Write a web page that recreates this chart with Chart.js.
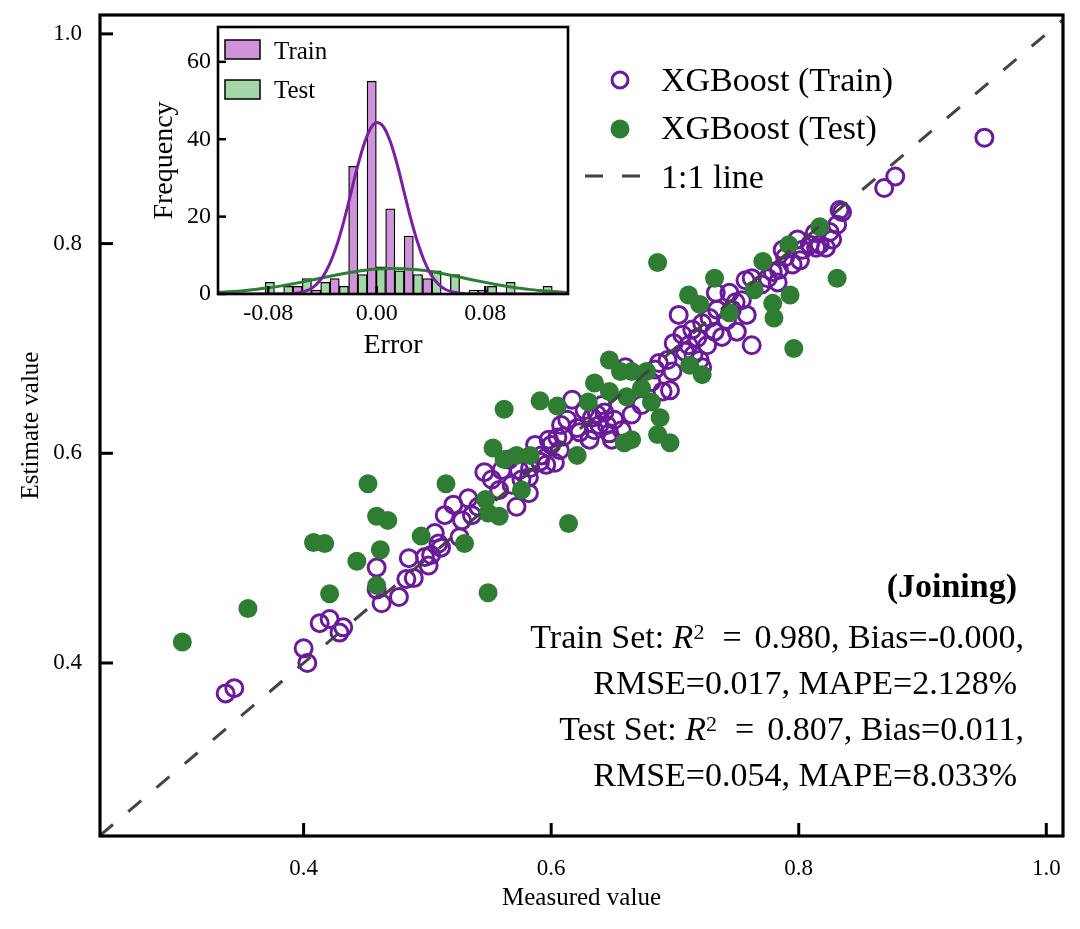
<!DOCTYPE html>
<html>
<head>
<meta charset="utf-8">
<script src="https://cdn.jsdelivr.net/npm/chart.js@4.4.1/dist/chart.umd.min.js"></script>
<style>
  html, body { margin: 0; padding: 0; background: #fff; }
  #wrap { position: relative; width: 1080px; height: 929px; }
  #wrap canvas { position: absolute; }
</style>
</head>
<body>
<div id="wrap">
  <canvas id="main" width="1080" height="929" style="left:0;top:0"></canvas>
  <canvas id="inset" width="450" height="360" style="left:130px;top:10px"></canvas>
</div>
<script>
// tick labels
const measuredTicks = [0.4, 0.6, 0.8, 1.0];
const estimateTicks = [0.4, 0.6, 0.8, 1.0];
const errorTicks = [-0.08, 0.00, 0.08];
const freqTicks = [0, 20, 40, 60];

// XGBoost train set (measured, estimated)
const trainMeasured = [
  0.337, 0.344, 0.400, 0.403, 0.413, 0.421, 0.432, 0.429, 0.459, 0.459,
  0.463, 0.477, 0.485, 0.483, 0.489, 0.498, 0.501, 0.506, 0.509, 0.526,
  0.514, 0.521, 0.533, 0.541, 0.546, 0.558, 0.572, 0.582, 0.566, 0.574,
  0.582, 0.587, 0.592, 0.598, 0.603, 0.607, 0.610, 0.596, 0.617, 0.627,
  0.633, 0.639, 0.643, 0.647, 0.641, 0.651, 0.635, 0.660, 0.687, 0.698,
  0.696, 0.722, 0.699, 0.706, 0.711, 0.718, 0.708, 0.715, 0.703, 0.722,
  0.732, 0.738, 0.750, 0.728, 0.762, 0.733, 0.744, 0.749, 0.757, 0.762,
  0.775, 0.783, 0.784, 0.789, 0.801, 0.799, 0.809, 0.813, 0.822, 0.825,
  0.831, 0.833, 0.835, 0.814, 0.869, 0.878, 0.950, 0.673, 0.665, 0.657,
  0.690, 0.681, 0.576, 0.552, 0.560, 0.528, 0.536, 0.503, 0.511, 0.613,
  0.621, 0.631, 0.608, 0.734, 0.742, 0.754, 0.758, 0.770, 0.795, 0.803,
  0.817, 0.827, 0.779, 0.720, 0.726, 0.637, 0.645, 0.649, 0.623, 0.600,
  0.591, 0.605, 0.583, 0.568, 0.684, 0.694, 0.714, 0.746, 0.787
];
const trainEstimate = [
  0.371, 0.376, 0.414, 0.400, 0.438, 0.442, 0.434, 0.429, 0.491, 0.470,
  0.457, 0.463, 0.500, 0.480, 0.481, 0.501, 0.493, 0.524, 0.514, 0.520,
  0.541, 0.551, 0.557, 0.549, 0.582, 0.565, 0.549, 0.562, 0.594, 0.584,
  0.577, 0.608, 0.598, 0.613, 0.591, 0.603, 0.616, 0.589, 0.651, 0.641,
  0.634, 0.627, 0.639, 0.619, 0.646, 0.632, 0.622, 0.682, 0.686, 0.678,
  0.660, 0.682, 0.705, 0.713, 0.703, 0.710, 0.697, 0.694, 0.732, 0.724,
  0.716, 0.711, 0.716, 0.729, 0.703, 0.753, 0.753, 0.744, 0.765, 0.767,
  0.767, 0.763, 0.775, 0.787, 0.784, 0.804, 0.799, 0.810, 0.796, 0.811,
  0.818, 0.832, 0.830, 0.796, 0.853, 0.864, 0.901, 0.646, 0.637, 0.622,
  0.659, 0.668, 0.575, 0.575, 0.584, 0.536, 0.541, 0.503, 0.510, 0.632,
  0.624, 0.613, 0.627, 0.737, 0.727, 0.746, 0.732, 0.761, 0.780, 0.794,
  0.799, 0.804, 0.773, 0.689, 0.703, 0.637, 0.627, 0.613, 0.620, 0.608,
  0.592, 0.615, 0.586, 0.570, 0.680, 0.689, 0.718, 0.737, 0.794
];

// XGBoost test set (measured, estimated)
const testMeasured = [
  0.302, 0.355, 0.408, 0.417, 0.421, 0.443, 0.452, 0.459, 0.468, 0.459,
  0.462, 0.495, 0.515, 0.530, 0.547, 0.549, 0.558, 0.549, 0.576, 0.553,
  0.562, 0.572, 0.583, 0.562, 0.591, 0.605, 0.614, 0.621, 0.630, 0.635,
  0.647, 0.661, 0.673, 0.647, 0.656, 0.665, 0.677, 0.681, 0.688, 0.686,
  0.696, 0.659, 0.665, 0.712, 0.722, 0.686, 0.711, 0.720, 0.732, 0.744,
  0.764, 0.771, 0.792, 0.817, 0.779, 0.780, 0.793, 0.831, 0.796
];
const testEstimate = [
  0.420, 0.452, 0.515, 0.514, 0.466, 0.497, 0.571, 0.540, 0.536, 0.474,
  0.508, 0.521, 0.571, 0.514, 0.556, 0.543, 0.540, 0.467, 0.565, 0.605,
  0.594, 0.598, 0.598, 0.642, 0.650, 0.645, 0.533, 0.598, 0.649, 0.667,
  0.659, 0.654, 0.662, 0.689, 0.678, 0.678, 0.678, 0.649, 0.634, 0.618,
  0.610, 0.610, 0.613, 0.684, 0.675, 0.782, 0.751, 0.742, 0.767, 0.734,
  0.756, 0.783, 0.799, 0.816, 0.743, 0.729, 0.751, 0.767, 0.700
];

const oneToOne = [0.2355, 1.02];

// error histogram (shared bins)
const binCenters = [
  -0.0822, -0.0686, -0.0549, -0.0413, -0.0276, -0.0139, -0.0003, 0.0134,
  0.0270, 0.0407, 0.0543, 0.0680, 0.0816, 0.0953, 0.1090, 0.1226
];
const trainCounts = [0, 0, 2, 1, 4, 33, 55, 22, 15, 4, 0, 0, 1, 0, 0, 0];
const testCounts  = [3, 2, 4, 3, 2, 5, 7, 6, 5, 6, 5, 1, 2, 3, 0, 2];

// density curves
const trainCurveX = [-0.117, -0.07, -0.06, -0.05, -0.045, -0.04, -0.035, -0.03, -0.025, -0.02,
  -0.015, -0.01, -0.005, 0, 0.005, 0.01, 0.015, 0.02, 0.025, 0.03, 0.035, 0.04, 0.045,
  0.05, 0.06, 0.07, 0.141];
const trainCurveY = [0, 0.05, 0.2, 1.1, 2.3, 4.3, 7.5, 12.0, 17.8, 24.7,
  31.8, 38.0, 42.5, 44.3, 43.2, 39.4, 33.6, 26.6, 19.6, 13.5, 8.6, 5.0, 2.7,
  1.3, 0.25, 0.05, 0];
const testCurveX = [-0.117, -0.11, -0.10, -0.09, -0.08, -0.07, -0.06, -0.05, -0.04, -0.03,
  -0.02, -0.01, 0, 0.01, 0.02, 0.03, 0.04, 0.05, 0.06, 0.07, 0.08, 0.09, 0.10, 0.11,
  0.12, 0.13, 0.141];
const testCurveY = [0.45, 0.55, 0.8, 1.15, 1.6, 2.1, 2.75, 3.45, 4.2, 4.9,
  5.55, 6.1, 6.45, 6.6, 6.55, 6.25, 5.8, 5.15, 4.45, 3.7, 3.0, 2.35, 1.75, 1.3,
  0.9, 0.62, 0.4];

const FONT = "'Liberation Serif', 'Times New Roman', Times, serif";
const PURPLE = '#6a1b9a';
const GREEN = '#2e7d32';
const TRAIN_BAR = '#ce93d8';
const TEST_BAR = '#a5d6a7';
const DASH = [17, 20];

Chart.defaults.font.family = FONT;
Chart.defaults.color = '#000';

const pts = (xs, ys) => xs.map((x, i) => ({ x: x, y: ys[i] }));
const setTicks = list => axis => { axis.ticks = list.map(v => ({ value: v })); };
// keep the plot box exactly where the layout padding puts it
const fixBox = (size) => s => {
  if (s.isHorizontal()) { s.height = size; s.paddingLeft = 0; s.paddingRight = 0; }
  else { s.width = size; s.paddingTop = 0; s.paddingBottom = 0; }
};

function seg(ctx, x1, y1, x2, y2) {
  ctx.beginPath();
  ctx.moveTo(x1, y1);
  ctx.lineTo(x2, y2);
  ctx.stroke();
}

// draws mixed-font text right-aligned at `right`
function richRight(ctx, parts, right, base) {
  let total = 0;
  parts.forEach(p => {
    if (p.gap) { p.w = p.gap; } else { ctx.font = p.f; p.w = ctx.measureText(p.t).width; }
    total += p.w;
  });
  let x = right - total;
  parts.forEach(p => {
    if (!p.gap) { ctx.font = p.f; ctx.fillText(p.t, x, base + (p.dy || 0)); }
    x += p.w;
  });
}

const rg = '34px ' + FONT;
const it = 'italic 34px ' + FONT;
const sp = '22px ' + FONT;
const statLines = [
  { right: 1017, base: 597, parts: [{ t: '(Joining)', f: 'bold 34px ' + FONT }] },
  { right: 1024, base: 648, parts: [{ t: 'Train Set: ', f: rg }, { t: 'R', f: it }, { t: '2', f: sp, dy: -9 },
      { gap: 18 }, { t: '=', f: rg }, { gap: 13 }, { t: '0.980, Bias=-0.000,', f: rg }] },
  { right: 1017, base: 694, parts: [{ t: 'RMSE=0.017, MAPE=2.128%', f: rg }] },
  { right: 1024, base: 740, parts: [{ t: 'Test Set: ', f: rg }, { t: 'R', f: it }, { t: '2', f: sp, dy: -9 },
      { gap: 18 }, { t: '=', f: rg }, { gap: 13 }, { t: '0.807, Bias=0.011,', f: rg }] },
  { right: 1017, base: 786, parts: [{ t: 'RMSE=0.054, MAPE=8.033%', f: rg }] }
];

const mainDecor = {
  id: 'mainDecor',
  afterDraw(chart) {
    const { ctx, chartArea: a, scales: { x, y } } = chart;
    ctx.save();
    ctx.strokeStyle = '#000';
    ctx.lineWidth = 3;
    x.ticks.forEach(t => { const p = x.getPixelForValue(t.value); seg(ctx, p, a.bottom, p, a.bottom - 13); });
    y.ticks.forEach(t => { const p = y.getPixelForValue(t.value); seg(ctx, a.left, p, a.left + 13, p); });
    ctx.lineWidth = 3.2;
    ctx.strokeRect(a.left, a.top, a.right - a.left, a.bottom - a.top);

    // legend
    ctx.fillStyle = '#000';
    ctx.font = '34px ' + FONT;
    ctx.textBaseline = 'alphabetic';
    ctx.textAlign = 'left';
    ctx.strokeStyle = PURPLE;
    ctx.lineWidth = 3;
    ctx.beginPath(); ctx.arc(620, 80, 8, 0, Math.PI * 2); ctx.stroke();
    ctx.fillText('XGBoost (Train)', 661, 91);
    ctx.fillStyle = GREEN;
    ctx.beginPath(); ctx.arc(620, 129, 9.5, 0, Math.PI * 2); ctx.fill();
    ctx.fillStyle = '#000';
    ctx.fillText('XGBoost (Test)', 661, 139);
    ctx.strokeStyle = '#444';
    ctx.lineWidth = 3;
    ctx.setLineDash([18, 19]);
    seg(ctx, 585, 176, 640, 176);
    ctx.setLineDash([]);
    ctx.fillText('1:1 line', 661, 188);

    // statistics
    statLines.forEach(l => richRight(ctx, l.parts, l.right, l.base));
    ctx.restore();
  }
};

new Chart(document.getElementById('main'), {
  type: 'scatter',
  data: {
    datasets: [
      {
        label: '1:1 line',
        data: pts(oneToOne, oneToOne),
        showLine: true,
        borderColor: '#444',
        borderWidth: 3,
        borderDash: DASH,
        pointRadius: 0,
        order: 0
      },
      {
        label: 'XGBoost (Test)',
        data: pts(testMeasured, testEstimate),
        pointRadius: 9.5,
        pointBackgroundColor: GREEN,
        pointBorderWidth: 0,
        order: 1
      },
      {
        label: 'XGBoost (Train)',
        data: pts(trainMeasured, trainEstimate),
        pointRadius: 8.5,
        pointBackgroundColor: 'rgba(0,0,0,0)',
        pointBorderColor: PURPLE,
        pointBorderWidth: 3,
        order: 2
      }
    ]
  },
  options: {
    responsive: false,
    animation: false,
    events: [],
    layout: { padding: { left: 0, right: 17, top: 15, bottom: 0 } },
    plugins: { legend: { display: false }, tooltip: { enabled: false } },
    scales: {
      x: {
        type: 'linear',
        min: 0.2355,
        max: 1.0135,
        afterFit: fixBox(93),
        afterBuildTicks: setTicks(measuredTicks),
        grid: { display: false, drawTicks: false },
        border: { display: false },
        ticks: { padding: 19, font: { size: 23 }, callback: v => v.toFixed(1) },
        title: { display: true, text: 'Measured value', font: { size: 25 }, padding: { top: 0, bottom: 16 } }
      },
      y: {
        type: 'linear',
        min: 0.235,
        max: 1.018,
        afterFit: fixBox(100),
        afterBuildTicks: setTicks(estimateTicks),
        grid: { display: false, drawTicks: false },
        border: { display: false },
        ticks: { padding: 18, font: { size: 23 }, callback: v => v.toFixed(1) },
        title: { display: true, text: 'Estimate value', font: { size: 25 }, padding: { top: 16, bottom: 0 } }
      }
    }
  },
  plugins: [mainDecor]
});

const insetDecor = {
  id: 'insetDecor',
  beforeDraw(chart) {
    const { ctx, chartArea: a } = chart;
    ctx.save();
    ctx.fillStyle = '#fff';
    ctx.fillRect(a.left, a.top, a.right - a.left, a.bottom - a.top);
    ctx.restore();
  },
  afterDraw(chart) {
    const { ctx, chartArea: a, scales: { x, y } } = chart;
    ctx.save();
    ctx.strokeStyle = '#000';
    ctx.lineWidth = 2.5;
    x.ticks.forEach(t => { const p = x.getPixelForValue(t.value); seg(ctx, p, a.bottom, p, a.bottom - 8); });
    y.ticks.forEach(t => { const p = y.getPixelForValue(t.value); seg(ctx, a.left, p, a.left + 8, p); });
    ctx.lineWidth = 2.6;
    ctx.strokeRect(a.left, a.top, a.right - a.left, a.bottom - a.top);

    // legend
    ctx.lineWidth = 1.5;
    ctx.fillStyle = TRAIN_BAR;
    ctx.fillRect(95, 30, 35, 19);
    ctx.strokeRect(95, 30, 35, 19);
    ctx.fillStyle = TEST_BAR;
    ctx.fillRect(95, 70, 35, 19);
    ctx.strokeRect(95, 70, 35, 19);
    ctx.fillStyle = '#000';
    ctx.font = '25px ' + FONT;
    ctx.textAlign = 'left';
    ctx.textBaseline = 'alphabetic';
    ctx.fillText('Train', 144, 49);
    ctx.fillText('Test', 144, 88);
    ctx.restore();
  }
};

new Chart(document.getElementById('inset'), {
  type: 'bar',
  data: {
    datasets: [
      {
        type: 'line',
        label: 'Train KDE',
        data: pts(trainCurveX, trainCurveY),
        borderColor: '#7b1fa2',
        borderWidth: 3,
        pointRadius: 0,
        cubicInterpolationMode: 'monotone',
        order: 0
      },
      {
        type: 'line',
        label: 'Test KDE',
        data: pts(testCurveX, testCurveY),
        borderColor: GREEN,
        borderWidth: 3,
        pointRadius: 0,
        cubicInterpolationMode: 'monotone',
        order: 0
      },
      {
        label: 'Train',
        data: pts(binCenters, trainCounts),
        backgroundColor: TRAIN_BAR,
        borderColor: '#000',
        borderWidth: 1.3,
        borderSkipped: false,
        categoryPercentage: 1,
        barPercentage: 1,
        order: 1
      },
      {
        label: 'Test',
        data: pts(binCenters, testCounts),
        backgroundColor: TEST_BAR,
        borderColor: '#000',
        borderWidth: 1.3,
        borderSkipped: false,
        categoryPercentage: 1,
        barPercentage: 1,
        order: 1
      }
    ]
  },
  options: {
    responsive: false,
    animation: false,
    events: [],
    layout: { padding: { left: 0, right: 12, top: 17, bottom: 0 } },
    plugins: { legend: { display: false }, tooltip: { enabled: false } },
    scales: {
      x: {
        type: 'linear',
        offset: false,
        min: -0.117,
        max: 0.141,
        afterFit: fixBox(76),
        afterBuildTicks: setTicks(errorTicks),
        grid: { display: false, drawTicks: false },
        border: { display: false },
        ticks: { padding: 5, font: { size: 24 }, maxRotation: 0,
          callback: v => (Math.abs(v) < 1e-9 ? 0 : v).toFixed(2) },
        title: { display: true, text: 'Error', font: { size: 28 }, padding: { top: 0, bottom: 8 } }
      },
      y: {
        type: 'linear',
        min: 0,
        max: 69,
        afterFit: fixBox(88),
        afterBuildTicks: setTicks(freqTicks),
        grid: { display: false, drawTicks: false },
        border: { display: false },
        ticks: { padding: 7, font: { size: 24 } },
        title: { display: true, text: 'Frequency', font: { size: 28 }, padding: { top: 18, bottom: 0 } }
      }
    }
  },
  plugins: [insetDecor]
});
</script>
</body>
</html>
